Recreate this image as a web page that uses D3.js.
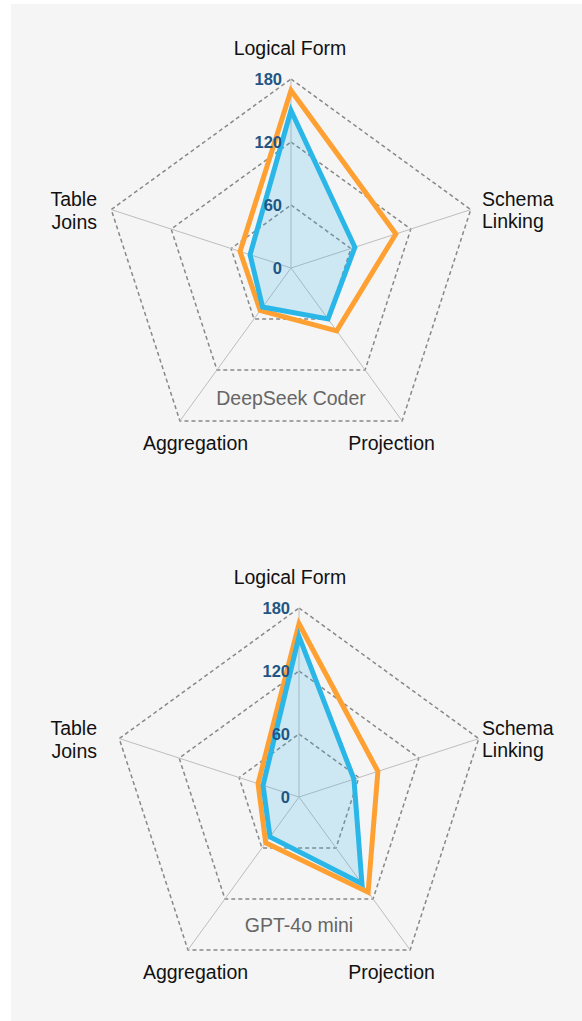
<!DOCTYPE html>
<html>
<head>
<meta charset="utf-8">
<script src="https://cdn.jsdelivr.net/npm/d3@7"></script>
<style>
  html, body { margin: 0; padding: 0; background: #ffffff; }
  svg { display: block; font-family: Helvetica, Arial, "Liberation Sans", sans-serif; }
</style>
</head>
<body>
<svg id="chart" width="582" height="1021"></svg>
<script>
// ---- data ----
const axes = ["Logical Form", "Schema Linking", "Projection", "Aggregation", "Table Joins"];
const tickValues = [0, 60, 120, 180];
const chartTitles = ["DeepSeek Coder", "GPT-4o mini"];
const deepseekOrange = [169, 105, 74, 50, 51];
const deepseekBlue = [150, 64, 60, 46, 41];
const gptOrange = [165, 79, 112, 54, 41];
const gptBlue = [153, 55, 102, 47, 36];

// ---- layout ----
const svg = d3.select("#chart");
svg.append("rect").attr("x", 11).attr("y", 4).attr("width", 571).attr("height", 1017).attr("fill", "#f5f5f5");

const rScale = d3.scaleLinear().domain([0, 180]).range([0, 189]);
const angle = i => i * 2 * Math.PI / axes.length;

const charts = [
  { title: chartTitles[0], cx: 291, cy: 268, labelCx: 290, titleDy: 137, series: [deepseekOrange, deepseekBlue] },
  { title: chartTitles[1], cx: 299, cy: 797, labelCx: 290, titleDy: 135, series: [gptOrange, gptBlue] }
];

const labelLayout = [
  { anchor: "middle", dx: 0, dy: [-213] },
  { anchor: "start", dx: 192, dy: [-62, -40] },
  { anchor: "middle", dx: 101.5, dy: [182] },
  { anchor: "middle", dx: -94.5, dy: [182] },
  { anchor: "end", dx: -193, dy: [-62, -39] }
];
const labelLines = [["Logical Form"], ["Schema", "Linking"], ["Projection"], ["Aggregation"], ["Table", "Joins"]];

const seriesStyle = [
  { stroke: "#ffa033", fill: "none" },
  { stroke: "#2bb6e8", fill: "rgba(43,182,232,0.2)" }
];

charts.forEach(c => {
  const g = svg.append("g").attr("transform", `translate(${c.cx},${c.cy})`);

  // rings
  tickValues.filter(t => t > 0).forEach(t => {
    const pts = axes.map((a, i) => d3.pointRadial(angle(i), rScale(t)));
    g.append("polygon")
      .attr("points", pts.map(p => p.join(",")).join(" "))
      .attr("fill", "none")
      .attr("stroke", "#888")
      .attr("stroke-width", 1.5)
      .attr("stroke-dasharray", "4,3");
  });

  // spokes
  axes.forEach((a, i) => {
    const p = d3.pointRadial(angle(i), rScale(180));
    g.append("line").attr("x1", 0).attr("y1", 0).attr("x2", p[0]).attr("y2", p[1])
      .attr("stroke", "#bdbdbd").attr("stroke-width", 1);
  });

  // series
  const line = d3.lineRadial()
    .angle((d, i) => angle(i))
    .radius(d => rScale(d))
    .curve(d3.curveLinearClosed);
  c.series.forEach((vals, si) => {
    g.append("path")
      .attr("d", line(vals))
      .attr("fill", seriesStyle[si].fill)
      .attr("stroke", seriesStyle[si].stroke)
      .attr("stroke-width", 5)
      .attr("stroke-linejoin", "miter");
  });

  // tick labels
  tickValues.forEach(t => {
    g.append("text")
      .attr("x", -9)
      .attr("y", -rScale(t) + 6)
      .attr("text-anchor", "end")
      .attr("font-size", 16.5)
      .attr("font-weight", "bold")
      .attr("fill", "#1f5683")
      .text(t);
  });

  // axis labels
  axes.forEach((a, i) => {
    const L = labelLayout[i];
    const t = svg.append("text")
      .attr("text-anchor", L.anchor)
      .attr("font-size", 19.5)
      .attr("fill", "#111");
    labelLines[i].forEach((ln, k) => {
      t.append("tspan").attr("x", c.labelCx + L.dx).attr("y", c.cy + L.dy[k]).text(ln);
    });
  });

  // title
  svg.append("text")
    .attr("x", c.cx).attr("y", c.cy + c.titleDy)
    .attr("text-anchor", "middle")
    .attr("font-size", 19.5)
    .attr("fill", "#666")
    .text(c.title);
});
</script>
</body>
</html>
